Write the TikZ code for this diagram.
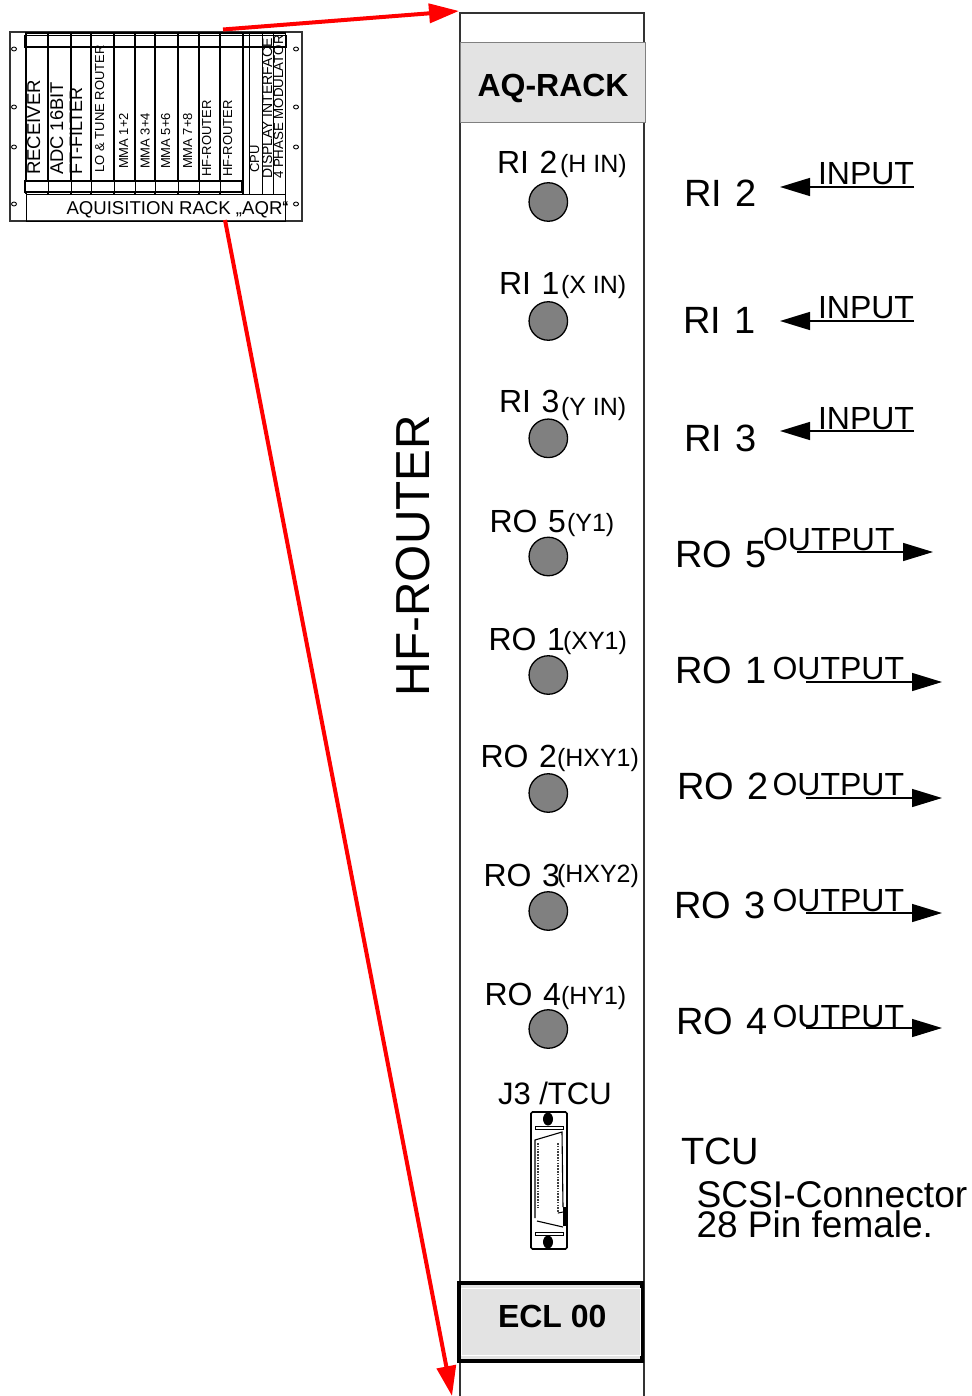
\documentclass[tikz,border=0pt]{standalone}
\usepackage{fontspec}
\setmainfont{Liberation Sans}
\newfontfamily\widesp[WordSpace=1.2]{Liberation Sans}
\usetikzlibrary{arrows.meta,shapes.geometric}
\newcommand{\fs}[1]{\fontsize{#1}{#1}\selectfont}
\tikzset{
  x=1pt,y=-1pt,
  lbl/.style={anchor=base west,inner sep=0pt,outer sep=0pt},
  big/.style={lbl,font=\widesp\fs{32}},
  small/.style={lbl,font=\fs{25}},
  side/.style={lbl,font=\widesp\fs{38}},
  io/.style={lbl,font=\fs{32}},
  rackb/.style={lbl,rotate=90,font=\fs{13}},
  jack/.style={circle,draw=black,line width=1.3pt,fill=black!50,minimum size=38.5pt,inner sep=0pt},
  ioarrow/.style={line width=1.4pt,-{Triangle[length=30pt,width=18pt]}},
  redarrow/.style={red,line width=4pt,-{Triangle[length=30pt,width=19pt]}},
  rl/.style={line width=.9pt,black},
  rlb/.style={line width=1.5pt,black},
  hole/.style={ellipse,draw,line width=.9pt,minimum width=5pt,minimum height=4pt,inner sep=0pt},
}
\begin{document}
\begin{tikzpicture}
\useasboundingbox (0,0) rectangle (971,1396);
\fill[white] (0,0) rectangle (971,1396);
% panel
\draw[line width=1.1pt,black!80] (460,1396) -- (460,13) -- (644,13) -- (644,1396);
\draw[line width=.8pt,black!50,fill=black!11] (460,42) rectangle (645,122);
\node[lbl,font=\fs{32}\bfseries] (aq) at (477.5,97) {AQ-RACK};
\draw[line width=4pt,black,fill=black!11] (459,1283) rectangle (642,1361);
\draw[line width=1pt,white] (461.5,1288.5) rectangle (640,1355);
\node[lbl,font=\fs{32}\bfseries] (ecl) at (498,1327) {ECL 00};
\node[lbl,rotate=90,font=\fs{47.7}] (hf) at (429.5,696) {HF-ROUTER};
% jacks
\node[jack] (j1) at (548.3,202) {};
\node[jack] (j2) at (548.3,321) {};
\node[jack] (j3) at (548.3,438.3) {};
\node[jack] (j4) at (548.3,556.5) {};
\node[jack] (j5) at (548.3,675) {};
\node[jack] (j6) at (548.3,793) {};
\node[jack] (j7) at (548.3,911) {};
\node[jack] (j8) at (548.3,1029) {};
% labels on panel
\node[big] (a1) at (497,174) {RI 2};   \node[small] (b1) at (560,172.5) {(H IN)};
\node[big] (a2) at (499,294.5) {RI 1};   \node[small] (b2) at (561,293.5) {(X IN)};
\node[big] (a3) at (499,412.5) {RI 3};   \node[small] (b3) at (561,415.5) {(Y IN)};
\node[big] (a4) at (489.5,532.5) {RO 5};   \node[small] (b4) at (567,531) {(Y1)};
\node[big] (a5) at (488.5,650.5) {RO 1};   \node[small] (b5) at (563,649) {(XY1)};
\node[big] (a6) at (480.5,767.5) {RO 2};   \node[small] (b6) at (557,766) {(HXY1)};
\node[big] (a7) at (483.5,886.5) {RO 3};   \node[small] (b7) at (557,882) {(HXY2)};
\node[big] (a8) at (484.5,1005.5) {RO 4};  \node[small] (b8) at (561,1004) {(HY1)};
\node[lbl,font=\fs{31}] (j3t) at (498,1104) {J3 /TCU};
% right labels
\node[side] (s1) at (684.5,207) {RI 2};
\node[side] (s2) at (683.5,334) {RI 1};
\node[side] (s3) at (684.5,451) {RI 3};
\node[side] (s4) at (675.5,567) {RO 5};
\node[side] (s5) at (675.5,683) {RO 1};
\node[side] (s6) at (677.5,799) {RO 2};
\node[side] (s7) at (674.5,918) {RO 3};
\node[side] (s8) at (676.5,1034) {RO 4};
\node[io] (i1) at (818,184.5) {INPUT};
\node[io] (i2) at (818,319) {INPUT};
\node[io] (i3) at (818,429) {INPUT};
\node[io] (o4) at (763,550) {OUTPUT};
\node[io] (o5) at (772.5,679) {OUTPUT};
\node[io] (o6) at (772.5,795) {OUTPUT};
\node[io] (o7) at (772.5,911) {OUTPUT};
\node[io] (o8) at (772.5,1027) {OUTPUT};
% arrows
\coordinate (p1) at (914,187); \coordinate (q1) at (780,187);
\coordinate (p2) at (914,321); \coordinate (q2) at (780,321);
\coordinate (p3) at (914,431); \coordinate (q3) at (780,431);
\coordinate (p4) at (797,552); \coordinate (q4) at (933,552);
\coordinate (p5) at (806,682); \coordinate (q5) at (942,682);
\coordinate (p6) at (806,798); \coordinate (q6) at (942,798);
\coordinate (p7) at (806,913); \coordinate (q7) at (942,913);
\coordinate (p8) at (806,1028); \coordinate (q8) at (942,1028);
\foreach \k in {1,...,8} \draw[ioarrow] (p\k) -- (q\k);
% TCU text
\node[side] (t1) at (681,1164) {TCU};
\node[lbl,font=\fs{37.2}] (t2) at (696.5,1207) {SCSI-Connector};
\node[lbl,font=\fs{37}] (t3) at (696.5,1237) {28 Pin female.};
% connector
\draw[line width=1.6pt,rounded corners=1.5pt,fill=white] (531,1112) rectangle (567,1249);
\fill (548,1119) ellipse (5 and 6.5);
\fill (548,1242) ellipse (5 and 6.5);
\draw[line width=1pt] (535,1126) rectangle (563,1129);
\draw[line width=1pt] (535,1232) rectangle (563,1235);
\draw[line width=1.1pt] (563,1227) -- (537,1221);
\draw[line width=1.1pt] (535,1218) -- (535,1140) -- (562,1132) -- (563,1207);
\draw[line width=2.6pt,black!75,dash pattern=on 1.6pt off 1.2pt] (538,1143) -- (538,1208);
\draw[line width=2.6pt,black!75,dash pattern=on 1.6pt off 1.2pt] (558,1143) -- (558,1213);
\draw[line width=1pt] (558,1213) -- (563,1212);
\draw[line width=3pt] (564,1207) -- (564,1226);
% rack
\draw[line width=1.1pt,black!80] (10,32) rectangle (302,221);
\draw[rl] (26,194) rectangle (285,221);
\foreach \x in {26,48,71,91,114,135,155,178,199,220} \draw[rlb] (\x,32) -- (\x,194);
\draw[rlb] (243,32) -- (243,194);
\draw[rl] (249,32) -- (249,194);
\draw[rl] (262,32) -- (262,194);
\draw[rl] (273,32) -- (273,194);
\draw[rl] (285,32) -- (285,194);
\draw[rlb] (26,33) -- (285,33);
\draw[rlb] (25,35.5) rectangle (286,47);
\foreach \x in {48,71,91,114,135,155,178,199,220,242,249,262,273} \draw[rl] (\x,35) -- (\x,47);
\draw[rlb,fill=white] (25,181) rectangle (242,192);
\foreach \x in {48,71,91,114,135,155,178,199,220} \draw[rl] (\x,181) -- (\x,192);
\foreach \y in {49,107,147,204} {\node[hole] at (14,\y) {}; \node[hole] at (296,\y) {};}
\node[lbl,rotate=90,font=\fs{18.6}] (m1) at (40,175) {RECEIVER};
\node[lbl,rotate=90,font=\fs{18.4}] (m2) at (63,175) {ADC 16BIT};
\node[lbl,rotate=90,font=\fs{18}] (m3) at (82,175) {FT-FILTER};
\node[rackb] (m4) at (104,172.5) {LO \& TUNE ROUTER};
\node[rackb] (m5) at (128,169) {MMA 1+2};
\node[rackb] (m6) at (149.5,169) {MMA 3+4};
\node[rackb] (m7) at (170,169) {MMA 5+6};
\node[rackb] (m8) at (192,169) {MMA 7+8};
\node[rackb] (m9) at (211,177) {HF-ROUTER};
\node[rackb] (m10) at (232,177) {HF-ROUTER};
\node[rackb] (m11) at (259,173) {CPU};
\node[lbl,rotate=90,font=\fs{14}] (m12) at (272,179) {DISPLAY INTERFACE};
\node[lbl,rotate=90,font=\fs{13.3}] (m13) at (283,179) {4 PHASE MODULATOR};
\node[lbl,font=\fs{18.6}] (rk) at (66.5,215) {AQUISITION RACK „AQR“};
% red arrows
\coordinate (rackT) at (223,29.5);
\coordinate (rackB) at (225,220);
\coordinate (panT) at (459,11);
\coordinate (panB) at (452,1396);
\draw[redarrow] (rackT) -- (panT);
\draw[redarrow] (rackB) -- (panB);
\end{tikzpicture}
\end{document}
